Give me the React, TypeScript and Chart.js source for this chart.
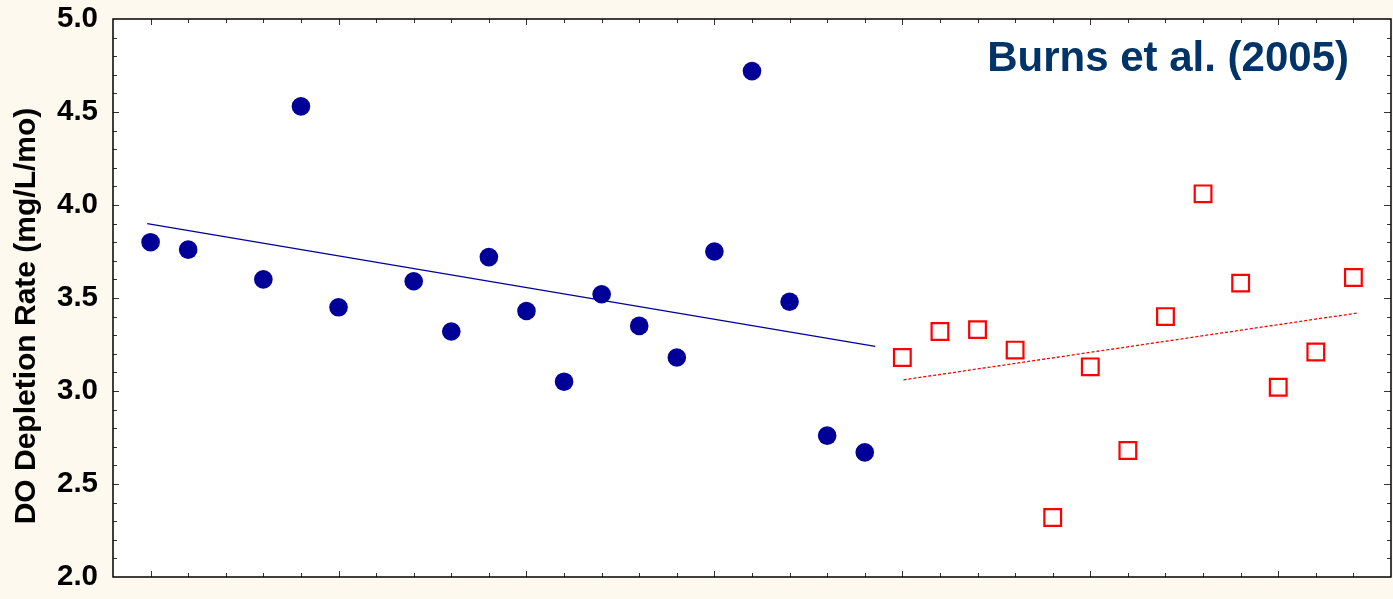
import React, { useEffect, useRef } from "react";
import { Chart, registerables } from "chart.js";

Chart.register(...registerables);

// ---- data ----
const xBlue = [0, 1, 3, 4, 5, 7, 8, 9, 10, 11, 12, 13, 14, 15, 16, 17, 18, 19];
const yBlue = [3.8, 3.76, 3.6, 4.53, 3.45, 3.59, 3.32, 3.72, 3.43, 3.05, 3.52, 3.35, 3.18, 3.75, 4.72, 3.48, 2.76, 2.67];
const xRed = [20, 21, 22, 23, 24, 25, 26, 27, 28, 29, 30, 31, 32];
const yRed = [3.18, 3.32, 3.33, 3.22, 2.32, 3.13, 2.68, 3.4, 4.06, 3.58, 3.02, 3.21, 3.61];
const blueTrendX = [-0.09, 19.28];
const blueTrendY = [3.9, 3.24];
const redTrendX = [20.03, 32.13];
const redTrendY = [3.06, 3.42];
const yTickLabels = ["2.0", "2.5", "3.0", "3.5", "4.0", "4.5", "5.0"];
const yAxisTitle = "DO Depletion Rate (mg/L/mo)";
const chartLabel = "Burns et al. (2005)";

const FONT = "'Liberation Sans', Arial, Helvetica, sans-serif";
const BG = "#FEF9EE";
const BLUE = "#000099";
const RED = "#FF0000";

const toPts = (xs: number[], ys: number[]) => xs.map((x, i) => ({ x, y: ys[i] }));

const framePlugin = {
  id: "frame",
  beforeDraw(chart: any) {
    const { ctx, chartArea: a, width, height } = chart;
    ctx.save();
    ctx.fillStyle = BG;
    ctx.fillRect(0, 0, width, height);
    ctx.fillStyle = "#ffffff";
    ctx.fillRect(a.left, a.top, a.right - a.left, a.bottom - a.top);
    ctx.restore();
  },
  afterDatasetsDraw(chart: any) {
    const { ctx, chartArea: a } = chart;
    const xs = chart.scales.x;
    const ys = chart.scales.y;
    ctx.save();
    ctx.strokeStyle = "#333333";
    ctx.lineWidth = 1;
    ctx.beginPath();
    for (let i = 21; i < 50; i++) {
      const py = Math.round(ys.getPixelForValue(i / 10)) + 0.5;
      const major = i % 5 === 0;
      const lenL = major ? 6 : 4;
      const lenR = major ? 7 : 4;
      ctx.moveTo(a.left, py);
      ctx.lineTo(a.left + lenL, py);
      ctx.moveTo(a.right, py);
      ctx.lineTo(a.right - lenR, py);
    }
    for (let i = 0; i <= 32; i++) {
      const px = Math.round(xs.getPixelForValue(i)) + 0.5;
      const major = i % 5 === 0;
      const len = major ? 6 : 4;
      ctx.moveTo(px, a.top);
      ctx.lineTo(px, a.top + len);
      ctx.moveTo(px, a.bottom);
      ctx.lineTo(px, a.bottom - len);
    }
    ctx.stroke();
    ctx.strokeStyle = "#000000";
    ctx.lineWidth = 1.5;
    ctx.strokeRect(a.left, a.top, a.right - a.left, a.bottom - a.top);

    // chart label (top right inside plot)
    ctx.fillStyle = "#003468";
    ctx.font = `bold 42px ${FONT}`;
    ctx.textAlign = "right";
    ctx.textBaseline = "alphabetic";
    ctx.fillText(chartLabel, a.right - 42, a.top + 52);

    // y axis title (rotated)
    ctx.fillStyle = "#000000";
    ctx.font = `bold 30px ${FONT}`;
    ctx.translate(35, (a.top + a.bottom) / 2 + 18);
    ctx.rotate(-Math.PI / 2);
    ctx.textAlign = "center";
    ctx.textBaseline = "alphabetic";
    ctx.fillText(yAxisTitle, 0, 0);
    ctx.restore();
  },
};

export default function App() {
  const ref = useRef<HTMLCanvasElement | null>(null);

  useEffect(() => {
    document.body.style.margin = "0";
    const canvas = ref.current;
    if (!canvas) return;
    const chart = new Chart(canvas, {
      type: "scatter",
      data: {
        datasets: [
          {
            label: "Blue",
            data: toPts(xBlue, yBlue),
            pointStyle: "circle",
            pointRadius: 9.3,
            pointBackgroundColor: BLUE,
            pointBorderColor: BLUE,
            pointBorderWidth: 0,
            showLine: false,
          },
          {
            label: "Red",
            data: toPts(xRed, yRed),
            pointStyle: "rect",
            pointRadius: 11.8,
            pointBackgroundColor: "#ffffff",
            pointBorderColor: RED,
            pointBorderWidth: 2.2,
            showLine: false,
          },
          {
            label: "Blue trend",
            data: toPts(blueTrendX, blueTrendY),
            showLine: true,
            pointRadius: 0,
            borderColor: BLUE,
            borderWidth: 1.2,
          },
          {
            label: "Red trend",
            data: toPts(redTrendX, redTrendY),
            showLine: true,
            pointRadius: 0,
            borderColor: RED,
            borderWidth: 1.3,
            borderDash: [3, 2],
          },
        ],
      },
      options: {
        animation: false,
        responsive: false,
        events: [],
        layout: { autoPadding: false, padding: { left: 0, top: 19, right: 2, bottom: 22 } },
        plugins: {
          legend: { display: false },
          tooltip: { enabled: false },
          title: { display: false },
        },
        scales: {
          x: {
            type: "linear",
            display: false,
            min: -1,
            max: 33,
          },
          y: {
            type: "linear",
            min: 2,
            max: 5,
            afterBuildTicks: (scale: any) => {
              scale.ticks = yTickLabels.map((t) => ({ value: parseFloat(t) }));
            },
            afterFit: (scale: any) => {
              scale.width = 113;
              scale.paddingTop = 0;
              scale.paddingBottom = 0;
            },
            grid: { display: false, drawTicks: false },
            border: { display: false },
            ticks: {
              padding: 15,
              color: "#000000",
              font: { family: FONT, size: 29.5, weight: "bold" },
              callback: (v: any) => Number(v).toFixed(1),
            },
            title: { display: false, text: yAxisTitle },
          },
        },
      },
      plugins: [framePlugin],
    } as any);
    return () => chart.destroy();
  }, []);

  return (
    <div style={{ width: 1393, height: 599, background: BG }}>
      <canvas ref={ref} width={1393} height={599} style={{ display: "block" }} />
    </div>
  );
}
